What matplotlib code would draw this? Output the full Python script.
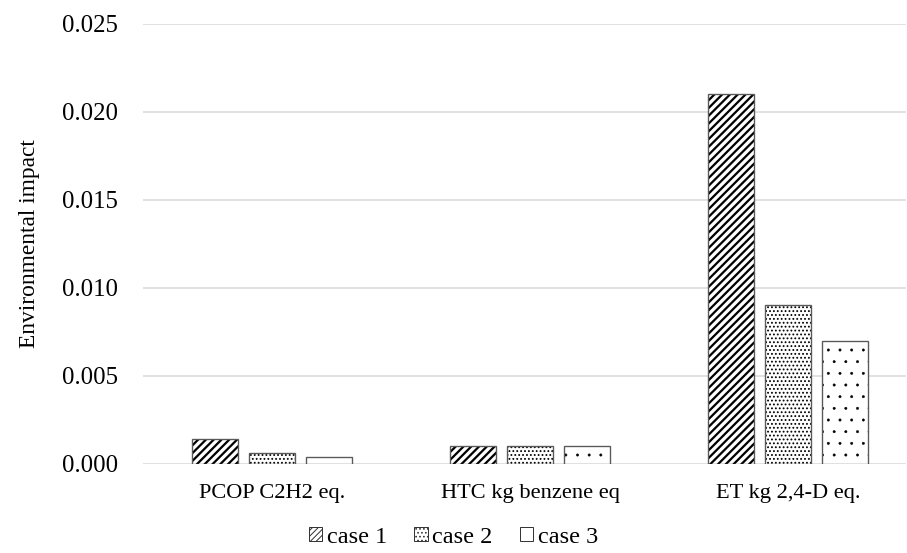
import matplotlib
matplotlib.use('Agg')
import matplotlib.pyplot as plt
import matplotlib.patches as mpatches
import numpy as np

categories = ['PCOP C2H2 eq.', 'HTC kg benzene eq', 'ET kg 2,4-D eq.']
series = ['case 1', 'case 2', 'case 3']
case1 = [0.0014, 0.0010, 0.0210]
case2 = [0.0006, 0.0010, 0.0090]
case3 = [0.0004, 0.0010, 0.0070]
yticks = [0.000, 0.005, 0.010, 0.015, 0.020, 0.025]

plt.rcParams['font.family'] = ['Liberation Serif', 'DejaVu Serif']

DPI = 70
fig = plt.figure(figsize=(907 / DPI, 553 / DPI), dpi=DPI)
ax = fig.add_axes([143 / 907, 89 / 553, 763 / 907, 440.5 / 553])

x = np.arange(len(categories))
width = 0.178
step = 0.221
hatches = ['///', '...', '.']
hatch_lw = [2.3, 1.2, 0.5]
leg_hatches = ['////', '...', '']
leg_lw = [1.6, 0.8, 0.5]
handles = []
for i, (name, vals) in enumerate(zip(series, [case1, case2, case3])):
    pos = x + (i - 1) * step
    with plt.rc_context({'hatch.linewidth': hatch_lw[i]}):
        # hatch in black, outline drawn separately in grey
        bars = ax.bar(pos, vals, width, color='white', edgecolor='black',
                      hatch=hatches[i], linewidth=0, zorder=2)
    with plt.rc_context({'hatch.linewidth': leg_lw[i]}):
        h = mpatches.Patch(facecolor='white', edgecolor='#303030',
                           hatch=leg_hatches[i], linewidth=1.0, label=name)
    ax.bar(pos, vals, width, fill=False, edgecolor='#595959', linewidth=1.4, zorder=3)
    handles.append(h)

ax.set_xlim(-0.5, 2.457)
ax.set_ylim(0, 0.025)
ax.set_yticks(yticks)
ax.set_yticklabels([f'{v:.3f}' for v in yticks], fontsize=25.5)
ax.set_xticks(x)
ax.set_xticklabels(categories, fontsize=23)
ax.tick_params(length=0, pad=21)
ax.tick_params(axis='y', pad=26)
ax.yaxis.grid(True, color='#d9d9d9', linewidth=1.6, zorder=0)
ax.set_axisbelow(True)
for s in ax.spines.values():
    s.set_visible(False)
ax.set_ylabel('Environmental impact', fontsize=24, labelpad=22)

fig.legend(handles=handles, loc='lower center', bbox_to_anchor=(0.5, -0.03), ncol=3,
           frameon=False, fontsize=25, handlelength=0.55, handleheight=0.55,
           handletextpad=0.2, columnspacing=1.1)

plt.savefig('out.png', dpi=DPI)
print("done")
